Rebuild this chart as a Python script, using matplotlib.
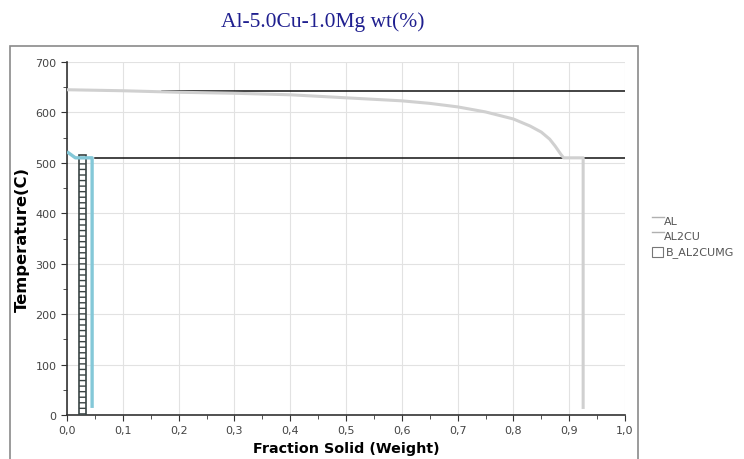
import numpy as np
import matplotlib.pyplot as plt
from matplotlib.patches import Rectangle
from matplotlib.ticker import MultipleLocator, FuncFormatter

# AL phase curve (fraction solid, temperature)
al_fs = [0.0, 0.1, 0.2, 0.3, 0.4, 0.5, 0.6, 0.65, 0.7, 0.75, 0.8, 0.83, 0.85, 0.865, 0.875, 0.885, 0.89, 0.925, 0.925]
al_t = [645, 643, 640, 638, 635, 629, 623, 618, 611, 601, 587, 573, 561, 547, 533, 517, 510, 510, 12]

# AL2CU lines
al2cu_hi_fs = [0.17, 1.0]
al2cu_hi_t = [643, 643]
al2cu_lo_fs = [0.05, 1.0]
al2cu_lo_t = [509, 509]

# other curve (cyan)
cy_fs = [0.0, 0.015, 0.045, 0.045]
cy_t = [522, 510, 510, 14]

# B_AL2CUMG bar
b_x = 0.028
b_w = 0.012
b_h = 516

fig = plt.figure(figsize=(7.44, 4.6), dpi=100)
fig.patch.set_facecolor('white')

# outer frame
fig.patches.append(Rectangle((10 / 744, -0.05), (638 - 10) / 744, 1 - 47 / 460 + 0.05,
                             transform=fig.transFigure, fill=False, edgecolor='#8a8a8a', lw=1.2))

fig.text(323 / 744, 1 - 22 / 460, 'Al-5.0Cu-1.0Mg wt(%)', ha='center', va='center',
         fontsize=15.5, family='Liberation Serif', color='#1f1f8f')

ax = fig.add_axes([67 / 744, 1 - 416 / 460, (625 - 67) / 744, (416 - 63) / 460])

ax.grid(True, color='#e2e2e2', lw=0.8)
ax.set_axisbelow(True)

ax.bar(b_x, b_h, width=b_w, bottom=0, facecolor='white', edgecolor='#3a4444',
       hatch='---', lw=1.2, zorder=3)
ax.plot(cy_fs, cy_t, color='#84c8d8', lw=2.4, solid_capstyle='butt', zorder=4)
ax.plot(al2cu_hi_fs, al2cu_hi_t, color='#111111', lw=1.1, zorder=4)
ax.plot(al2cu_lo_fs, al2cu_lo_t, color='#111111', lw=1.1, zorder=4)
ax.plot(al_fs, al_t, color='#d0d0d0', lw=2.2, solid_capstyle='butt', zorder=5)

ax.set_xlim(0, 1.0)
ax.set_ylim(0, 700)
ax.xaxis.set_major_locator(MultipleLocator(0.1))
ax.xaxis.set_minor_locator(MultipleLocator(0.05))
ax.yaxis.set_major_locator(MultipleLocator(100))
ax.yaxis.set_minor_locator(MultipleLocator(50))
ax.xaxis.set_major_formatter(FuncFormatter(lambda v, p: ('%.1f' % v).replace('.', ',')))

for s in ['top', 'right']:
    ax.spines[s].set_visible(False)
for s in ['left', 'bottom']:
    ax.spines[s].set_color('#333333')
    ax.spines[s].set_linewidth(1.2)
ax.tick_params(which='both', direction='out', color='#333333', labelcolor='#444444', labelsize=8)
ax.tick_params(which='major', length=4)
ax.tick_params(which='minor', length=3)

ax.set_xlabel('Fraction Solid (Weight)', fontsize=10.3, fontweight='bold', labelpad=4)
ax.set_ylabel('Temperature(C)', fontsize=11.8, fontweight='bold', labelpad=4)

# legend
lx = 652 / 744
for i, name in enumerate(['AL', 'AL2CU']):
    y = 1 - (222 + i * 15) / 460
    fig.lines.append(plt.Line2D([lx, lx + 12 / 744], [y + 4 / 460, y + 4 / 460], transform=fig.transFigure,
                                color='#b0b0b0', lw=1))
    fig.text(lx + 12 / 744, y, name, fontsize=8, color='#555555', va='center')
y = 1 - 253 / 460
fig.patches.append(Rectangle((lx, y - 5 / 460), 11 / 744, 10 / 460, transform=fig.transFigure,
                             facecolor='white', edgecolor='#777777', hatch='-', lw=0.8))
fig.text(lx + 14 / 744, y, 'B_AL2CUMG', fontsize=8, color='#555555', va='center')

fig.savefig('out.png', dpi=100)
